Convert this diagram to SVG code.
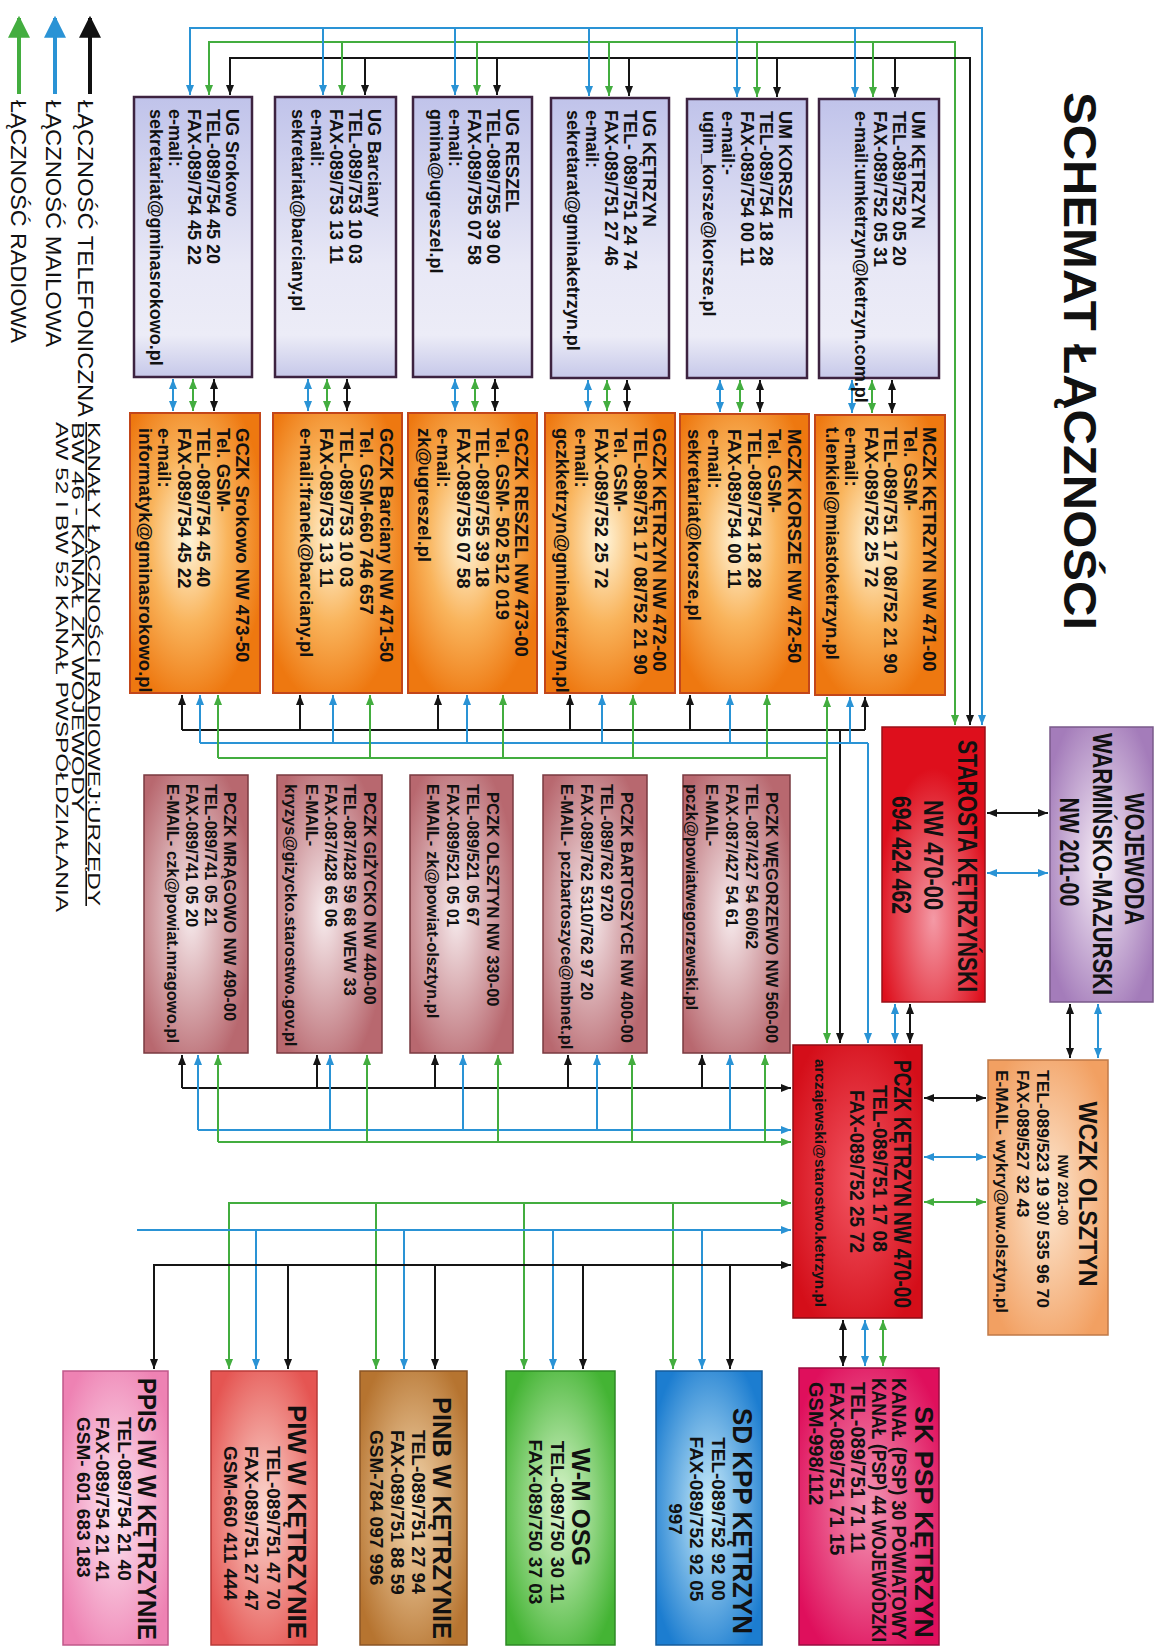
<svg xmlns="http://www.w3.org/2000/svg" width="1160" height="1648" viewBox="0 0 1160 1648">
<style>
text{font-family:"Liberation Sans",Arial,sans-serif;font-weight:bold;fill:#111}
.f18{font-size:18px}.f185{font-size:18.5px}.f165{font-size:16.5px}
.lg{font-weight:normal;font-size:22px}
.ln{fill:none;stroke-width:2}
.k{stroke:#151515}.b{stroke:#2a93d5}.g{stroke:#43ad3f}
.bUG{stroke:#3d2340;stroke-width:2.5}
.bOR{stroke:#c2461a;stroke-width:2}
.bRO{stroke:#7a3a40;stroke-width:1.5}
</style>
<defs>
<marker id="mk" viewBox="0 0 10 10" refX="10" refY="5" markerWidth="10" markerHeight="10" markerUnits="userSpaceOnUse" orient="auto-start-reverse"><path d="M0,1 L10,5 L0,9z" fill="#151515"/></marker>
<marker id="mb" viewBox="0 0 10 10" refX="10" refY="5" markerWidth="10" markerHeight="10" markerUnits="userSpaceOnUse" orient="auto-start-reverse"><path d="M0,1 L10,5 L0,9z" fill="#2a93d5"/></marker>
<marker id="mg" viewBox="0 0 10 10" refX="10" refY="5" markerWidth="10" markerHeight="10" markerUnits="userSpaceOnUse" orient="auto-start-reverse"><path d="M0,1 L10,5 L0,9z" fill="#43ad3f"/></marker>
<marker id="Lk" viewBox="0 0 10 10" refX="9" refY="5" markerWidth="22" markerHeight="22" markerUnits="userSpaceOnUse" orient="auto"><path d="M0,0 L10,5 L0,10z" fill="#111"/></marker>
<marker id="Lb" viewBox="0 0 10 10" refX="9" refY="5" markerWidth="22" markerHeight="22" markerUnits="userSpaceOnUse" orient="auto"><path d="M0,0 L10,5 L0,10z" fill="#2a93d5"/></marker>
<marker id="Lg" viewBox="0 0 10 10" refX="9" refY="5" markerWidth="22" markerHeight="22" markerUnits="userSpaceOnUse" orient="auto"><path d="M0,0 L10,5 L0,10z" fill="#43ad3f"/></marker>
<linearGradient id="gUG" x1="0" y1="0" x2="1" y2="0"><stop offset="0" stop-color="#c0c3ea"/><stop offset="0.6" stop-color="#e8e8f6"/><stop offset="0.85" stop-color="#ececf7"/><stop offset="1" stop-color="#c6c8e9"/></linearGradient>
<radialGradient id="gOR" cx="0.45" cy="0.55" r="0.6"><stop offset="0" stop-color="#fff6dc"/><stop offset="0.5" stop-color="#f9b45c"/><stop offset="1" stop-color="#ee7810"/></radialGradient>
<radialGradient id="gRO" cx="0.5" cy="0.55" r="0.6"><stop offset="0" stop-color="#f7ecee"/><stop offset="1" stop-color="#b8686f"/></radialGradient>
<radialGradient id="gST" cx="0.7" cy="0.5" r="0.55"><stop offset="0" stop-color="#f49aa6"/><stop offset="1" stop-color="#de0f1c"/></radialGradient>
<radialGradient id="gPC" cx="0.5" cy="0.5" r="0.6"><stop offset="0" stop-color="#f25562"/><stop offset="1" stop-color="#d40e19"/></radialGradient>
<radialGradient id="gWO" cx="0.5" cy="0.5" r="0.6"><stop offset="0" stop-color="#f8f0f8"/><stop offset="1" stop-color="#a47cba"/></radialGradient>
<radialGradient id="gWC" cx="0.5" cy="0.5" r="0.6"><stop offset="0" stop-color="#fde9d4"/><stop offset="1" stop-color="#f2a062"/></radialGradient>
<radialGradient id="gSK" cx="0.5" cy="0.5" r="0.6"><stop offset="0" stop-color="#f396b4"/><stop offset="1" stop-color="#df0f5c"/></radialGradient>
<radialGradient id="gSD" cx="0.5" cy="0.5" r="0.6"><stop offset="0" stop-color="#cdeefb"/><stop offset="1" stop-color="#1c7dd0"/></radialGradient>
<radialGradient id="gWM" cx="0.5" cy="0.5" r="0.6"><stop offset="0" stop-color="#dff7d2"/><stop offset="1" stop-color="#44b434"/></radialGradient>
<radialGradient id="gPN" cx="0.5" cy="0.5" r="0.6"><stop offset="0" stop-color="#f6dbb4"/><stop offset="1" stop-color="#b67430"/></radialGradient>
<radialGradient id="gPW" cx="0.5" cy="0.5" r="0.6"><stop offset="0" stop-color="#fbd8d0"/><stop offset="1" stop-color="#e55552"/></radialGradient>
<radialGradient id="gPP" cx="0.5" cy="0.5" r="0.6"><stop offset="0" stop-color="#fde8f2"/><stop offset="1" stop-color="#ee82b3"/></radialGradient>
</defs>
<rect width="1160" height="1648" fill="#fff"/>

<text transform="translate(1064,92) rotate(90)" font-size="46" textLength="538" lengthAdjust="spacingAndGlyphs">SCHEMAT ŁĄCZNOŚCI</text>

<g id="legend">
<path d="M90,94 V18" stroke="#111" stroke-width="4" marker-end="url(#Lk)"/>
<path d="M55,94 V18" stroke="#2a93d5" stroke-width="4" marker-end="url(#Lb)"/>
<path d="M19,94 V18" stroke="#43ad3f" stroke-width="4" marker-end="url(#Lg)"/>
<text class="lg" transform="translate(78,100) rotate(90)" textLength="317" lengthAdjust="spacingAndGlyphs">ŁĄCZNOŚĆ TELEFONICZNA</text>
<text class="lg" transform="translate(46,100) rotate(90)" textLength="247" lengthAdjust="spacingAndGlyphs">ŁĄCZNOŚĆ MAILOWA</text>
<text class="lg" transform="translate(11,100) rotate(90)" textLength="243" lengthAdjust="spacingAndGlyphs">ŁĄCZNOŚĆ RADIOWA</text>
<text transform="translate(88,422) rotate(90)" style="font-weight:normal;font-size:16px" text-decoration="underline" textLength="484" lengthAdjust="spacingAndGlyphs">KANAŁY ŁĄCZNOŚCI RADIOWEJ:URZĘDY</text>
<text transform="translate(72,422) rotate(90)" style="font-weight:normal;font-size:16px" textLength="390" lengthAdjust="spacingAndGlyphs">BW 46  - KANAŁ ZK WOJEWODY</text>
<text transform="translate(56,422) rotate(90)" style="font-weight:normal;font-size:16px" textLength="490" lengthAdjust="spacingAndGlyphs">AW 52 I BW 52 KANAŁ PWSPÓŁDZIAŁANIA</text>
</g>

<g id="connectors">
<path class="ln b" d="M190,95 V28 H982 V725" marker-start="url(#mb)" marker-end="url(#mb)"/>
<path class="ln g" d="M209,95 V42 H955 V725" marker-start="url(#mg)" marker-end="url(#mg)"/>
<path class="ln k" d="M230,95 V58 H970 V725" marker-start="url(#mk)" marker-end="url(#mk)"/>
<g class="ln b" marker-end="url(#mb)"><path d="M323,28 V95"/><path d="M455,28 V95"/><path d="M589,28 V96"/><path d="M737,28 V97"/><path d="M855,28 V97"/></g>
<g class="ln g" marker-end="url(#mg)"><path d="M342,42 V95"/><path d="M477,42 V95"/><path d="M609,42 V96"/><path d="M757,42 V97"/><path d="M873,42 V97"/></g>
<g class="ln k" marker-end="url(#mk)"><path d="M365,58 V95"/><path d="M497,58 V95"/><path d="M629,58 V96"/><path d="M777,58 V97"/><path d="M895,58 V97"/></g>
<g class="ln b" marker-start="url(#mb)" marker-end="url(#mb)"><path d="M173,379 V411"/><path d="M308,379 V411"/><path d="M455,379 V411"/><path d="M588,380 V411"/><path d="M720,380 V412"/><path d="M852,380 V413"/></g>
<g class="ln g" marker-start="url(#mg)" marker-end="url(#mg)"><path d="M193,379 V411"/><path d="M327,379 V411"/><path d="M475,379 V411"/><path d="M607,380 V411"/><path d="M740,380 V412"/><path d="M872,380 V413"/></g>
<g class="ln k" marker-start="url(#mk)" marker-end="url(#mk)"><path d="M214,379 V411"/><path d="M347,379 V411"/><path d="M495,379 V411"/><path d="M627,380 V411"/><path d="M760,380 V412"/><path d="M892,380 V413"/></g>
<path class="ln k" d="M182,730 H865"/>
<g class="ln k" marker-end="url(#mk)"><path d="M182,730 V695"/><path d="M300,730 V695"/><path d="M438,730 V695"/><path d="M570,730 V695"/><path d="M690,730 V695"/><path d="M865,730 V697"/><path d="M840,730 V1043"/></g>
<path class="ln b" d="M200,743 H868"/>
<g class="ln b" marker-end="url(#mb)"><path d="M200,743 V695"/><path d="M333,743 V695"/><path d="M467,743 V695"/><path d="M602,743 V695"/><path d="M730,743 V695"/><path d="M850,743 V697"/><path d="M868,743 V1043"/></g>
<path class="ln g" d="M218,758 H827"/>
<g class="ln g" marker-end="url(#mg)"><path d="M218,758 V695"/><path d="M370,758 V695"/><path d="M503,758 V695"/><path d="M633,758 V695"/><path d="M767,758 V695"/></g>
<path class="ln g" d="M827,697 V1043" marker-start="url(#mg)" marker-end="url(#mg)"/>
<path class="ln k" d="M182,1088 H791" marker-end="url(#mk)"/>
<g class="ln k" marker-end="url(#mk)"><path d="M182,1088 V1055"/><path d="M317,1088 V1055"/><path d="M435,1088 V1055"/><path d="M568,1088 V1055"/><path d="M702,1088 V1055"/></g>
<path class="ln b" d="M198,1130 H791" marker-end="url(#mb)"/>
<g class="ln b" marker-end="url(#mb)"><path d="M198,1130 V1055"/><path d="M330,1130 V1055"/><path d="M463,1130 V1055"/><path d="M597,1130 V1055"/><path d="M730,1130 V1055"/></g>
<path class="ln g" d="M218,1142 H791" marker-end="url(#mg)"/>
<g class="ln g" marker-end="url(#mg)"><path d="M218,1142 V1055"/><path d="M367,1142 V1055"/><path d="M498,1142 V1055"/><path d="M632,1142 V1055"/><path d="M765,1142 V1055"/></g>
<path class="ln g" d="M229,1369 V1203 H791" marker-start="url(#mg)" marker-end="url(#mg)"/>
<g class="ln g" marker-end="url(#mg)"><path d="M376,1203 V1369"/><path d="M524,1203 V1369"/><path d="M673,1203 V1369"/></g>
<path class="ln b" d="M137,1230 H791" marker-end="url(#mb)"/>
<g class="ln b" marker-end="url(#mb)"><path d="M256,1230 V1369"/><path d="M404,1230 V1369"/><path d="M553,1230 V1369"/><path d="M702,1230 V1369"/></g>
<path class="ln k" d="M154,1369 V1265 H791" marker-start="url(#mk)" marker-end="url(#mk)"/>
<g class="ln k" marker-end="url(#mk)"><path d="M288,1265 V1369"/><path d="M435,1265 V1369"/><path d="M583,1265 V1369"/><path d="M730,1265 V1369"/></g>
<path class="ln k" d="M987,813 H1048" marker-start="url(#mk)" marker-end="url(#mk)"/>
<path class="ln b" d="M987,873 H1048" marker-start="url(#mb)" marker-end="url(#mb)"/>
<path class="ln b" d="M895,1004 V1043" marker-start="url(#mb)" marker-end="url(#mb)"/>
<path class="ln k" d="M910,1004 V1043" marker-start="url(#mk)" marker-end="url(#mk)"/>
<path class="ln k" d="M1070,1004 V1058" marker-start="url(#mk)" marker-end="url(#mk)"/>
<path class="ln b" d="M1098,1004 V1058" marker-start="url(#mb)" marker-end="url(#mb)"/>
<path class="ln k" d="M924,1098 H986" marker-start="url(#mk)" marker-end="url(#mk)"/>
<path class="ln b" d="M924,1157 H986" marker-start="url(#mb)" marker-end="url(#mb)"/>
<path class="ln g" d="M924,1202 H986" marker-start="url(#mg)" marker-end="url(#mg)"/>
<path class="ln k" d="M843,1320 V1366" marker-start="url(#mk)" marker-end="url(#mk)"/>
<path class="ln b" d="M865,1320 V1366" marker-start="url(#mb)" marker-end="url(#mb)"/>
<path class="ln g" d="M883,1320 V1366" marker-start="url(#mg)" marker-end="url(#mg)"/>
</g>

<g id="ug-srokowo" transform="translate(252,97) rotate(90)"><rect width="280" height="118" fill="url(#gUG)" class="bUG"/>
<text class="f18"><tspan x="12" y="26">UG Srokowo</tspan><tspan x="12" y="45">TEL-089/754 45 20</tspan><tspan x="12" y="64">FAX-089/754 45 22</tspan><tspan x="12" y="83">e-mail:</tspan><tspan x="12" y="102">sekretariat@gminasrokowo.pl</tspan></text></g>
<g id="ug-barciany" transform="translate(396,97) rotate(90)"><rect width="280" height="121" fill="url(#gUG)" class="bUG"/>
<text class="f18"><tspan x="12" y="28">UG Barciany</tspan><tspan x="12" y="47">TEL-089/753 10 03</tspan><tspan x="12" y="66">FAX-089/753 13 11</tspan><tspan x="12" y="85">e-mail:</tspan><tspan x="12" y="104">sekretariat@barciany.pl</tspan></text></g>
<g id="ug-reszel" transform="translate(532,97) rotate(90)"><rect width="280" height="119" fill="url(#gUG)" class="bUG"/>
<text class="f18"><tspan x="12" y="26">UG RESZEL</tspan><tspan x="12" y="45">TEL-089/755 39 00</tspan><tspan x="12" y="64">FAX-089/755 07 58</tspan><tspan x="12" y="83">e-mail:</tspan><tspan x="12" y="102">gmina@ugreszel.pl</tspan></text></g>
<g id="ug-ketrzyn" transform="translate(669,98) rotate(90)"><rect width="280" height="118" fill="url(#gUG)" class="bUG"/>
<text class="f18"><tspan x="12" y="26">UG KĘTRZYN</tspan><tspan x="12" y="45">TEL- 089/751 24 74</tspan><tspan x="12" y="64">FAX-089/751 27 46</tspan><tspan x="12" y="83">e-mail:</tspan><tspan x="12" y="102">sekretarat@gminaketrzyn.pl</tspan></text></g>
<g id="um-korsze" transform="translate(807,99) rotate(90)"><rect width="279" height="120" fill="url(#gUG)" class="bUG"/>
<text class="f18"><tspan x="12" y="28">UM KORSZE</tspan><tspan x="12" y="47">TEL-089/754 18 28</tspan><tspan x="12" y="66">FAX-089/754 00 11</tspan><tspan x="12" y="85">e-mail:-</tspan><tspan x="12" y="104">ugim_korsze@korsze.pl</tspan></text></g>
<g id="um-ketrzyn" transform="translate(939,99) rotate(90)"><rect width="279" height="120" fill="url(#gUG)" class="bUG"/>
<text class="f18"><tspan x="12" y="27">UM KĘTRZYN</tspan><tspan x="12" y="46">TEL-089/752 05 20</tspan><tspan x="12" y="65">FAX-089/752 05 31</tspan><tspan x="12" y="84">e-mail:umketrzyn@ketrzyn.com.pl</tspan></text></g>

<g id="gczk-srokowo" transform="translate(260,413) rotate(90)"><rect width="280" height="130" fill="url(#gOR)" class="bOR"/>
<text class="f185"><tspan x="15" y="24">GCZK  Srokowo NW 473-50</tspan><tspan x="15" y="43.5">Tel. GSM-</tspan><tspan x="15" y="63">TEL-089/754 45 40</tspan><tspan x="15" y="82.5">FAX-089/754 45 22</tspan><tspan x="15" y="102">e-mail:</tspan><tspan x="15" y="121">informatyk@gminasrokowo.pl</tspan></text></g>
<g id="gczk-barciany" transform="translate(402,413) rotate(90)"><rect width="280" height="129" fill="url(#gOR)" class="bOR"/>
<text class="f185"><tspan x="15" y="22">GCZK  Barciany NW 471-50</tspan><tspan x="15" y="42">Tel. GSM-660 746 657</tspan><tspan x="15" y="62">TEL-089/753 10 03</tspan><tspan x="15" y="82">FAX-089/753 13 11</tspan><tspan x="15" y="102">e-mail:franek@barciany.pl</tspan></text></g>
<g id="gczk-reszel" transform="translate(537,413) rotate(90)"><rect width="280" height="129" fill="url(#gOR)" class="bOR"/>
<text class="f185"><tspan x="15" y="22">GCZK  RESZEL NW 473-00</tspan><tspan x="15" y="41.5">Tel. GSM- 502 512 019</tspan><tspan x="15" y="61">TEL-089/755 39 18</tspan><tspan x="15" y="80.5">FAX-089/755 07 58</tspan><tspan x="15" y="100">e-mail:</tspan><tspan x="15" y="119">zk@ugreszel.pl</tspan></text></g>
<g id="gczk-ketrzyn" transform="translate(675,413) rotate(90)"><rect width="280" height="130" fill="url(#gOR)" class="bOR"/>
<text class="f185"><tspan x="15" y="22">GCZK KĘTRZYN NW 472-00</tspan><tspan x="15" y="41.5">TEL-089/751 17 08/752 21 90</tspan><tspan x="15" y="61">Tel. GSM-</tspan><tspan x="15" y="80.5">FAX-089/752 25 72</tspan><tspan x="15" y="100">e-mail:</tspan><tspan x="15" y="119">gczkketrzyn@gminaketrzyn.pl</tspan></text></g>
<g id="mczk-korsze" transform="translate(809,414) rotate(90)"><rect width="279" height="129" fill="url(#gOR)" class="bOR"/>
<text class="f185"><tspan x="15" y="21">MCZK  KORSZE NW 472-50</tspan><tspan x="15" y="41">Tel. GSM-</tspan><tspan x="15" y="61">TEL-089/754 18 28</tspan><tspan x="15" y="81">FAX-089/754 00 11</tspan><tspan x="15" y="101">e-mail:</tspan><tspan x="15" y="121">sekretariat@korsze.pl</tspan></text></g>
<g id="mczk-ketrzyn" transform="translate(945,415) rotate(90)"><rect width="280" height="130" fill="url(#gOR)" class="bOR"/>
<text class="f185"><tspan x="12" y="22">MCZK KĘTRZYN NW 471-00</tspan><tspan x="12" y="41.5">Tel. GSM-</tspan><tspan x="12" y="61">TEL-089/751 17 08/752 21 90</tspan><tspan x="12" y="80.5">FAX-089/752 25 72</tspan><tspan x="12" y="100">e-mail:</tspan><tspan x="12" y="119">t.lenkiel@miastoketrzyn.pl</tspan></text></g>

<g id="pczk-mragowo" transform="translate(248,775) rotate(90)"><rect width="278" height="104" fill="url(#gRO)" class="bRO"/>
<text class="f165"><tspan x="17" y="24">PCZK MRĄGOWO  NW 490-00</tspan><tspan x="9" y="43">TEL-089/741 05 21</tspan><tspan x="9" y="62">FAX-089/741 05 20</tspan><tspan x="9" y="81">E-MAIL- czk@powiat.mragowo.pl</tspan></text></g>
<g id="pczk-gizycko" transform="translate(382,775) rotate(90)"><rect width="278" height="105" fill="url(#gRO)" class="bRO"/>
<text class="f165"><tspan x="17" y="18">PCZK GIŻYCKO   NW 440-00</tspan><tspan x="9" y="38">TEL-087/428 59 68 WEW 33</tspan><tspan x="9" y="57">FAX-087/428 65 06</tspan><tspan x="9" y="76">E-MAIL-</tspan><tspan x="9" y="97">kryzys@gizycko.starostwo.gov.pl</tspan></text></g>
<g id="pczk-olsztyn" transform="translate(513,775) rotate(90)"><rect width="278" height="103" fill="url(#gRO)" class="bRO"/>
<text class="f165"><tspan x="17" y="26">PCZK OLSZTYN  NW 330-00</tspan><tspan x="9" y="46">TEL-089/521 05 67</tspan><tspan x="9" y="66">FAX-089/521 05 01</tspan><tspan x="9" y="86">E-MAIL- zk@powiat-olsztyn.pl</tspan></text></g>
<g id="pczk-bartoszyce" transform="translate(647,775) rotate(90)"><rect width="278" height="104" fill="url(#gRO)" class="bRO"/>
<text class="f165"><tspan x="17" y="26">PCZK BARTOSZYCE NW 400-00</tspan><tspan x="9" y="46">TEL-089/762 9720</tspan><tspan x="9" y="66">FAX-089/762 5310/762 97 20</tspan><tspan x="9" y="86">E-MAIL- pczbartoszyce@mbnet.pl</tspan></text></g>
<g id="pczk-wegorzewo" transform="translate(790,775) rotate(90)"><rect width="278" height="107" fill="url(#gRO)" class="bRO"/>
<text class="f165"><tspan x="17" y="24">PCZK WĘGORZEWO NW 560-00</tspan><tspan x="9" y="44">TEL-087/427 54 60/62</tspan><tspan x="9" y="64">FAX-087/427 54 61</tspan><tspan x="9" y="84">E-MAIL-</tspan><tspan x="9" y="104">pczk@powiatwegorzewski.pl</tspan></text></g>

<g id="starosta" transform="translate(985,727) rotate(90)"><rect width="275" height="103" fill="url(#gST)" stroke="#9a1018" stroke-width="1.5"/>
<text font-size="27" text-anchor="middle"><tspan x="139" y="27" textLength="252" lengthAdjust="spacingAndGlyphs">STAROSTA KĘTRZYŃSKI</tspan><tspan x="128" y="61" textLength="110" lengthAdjust="spacingAndGlyphs">NW 470-00</tspan><tspan x="128" y="93" textLength="118" lengthAdjust="spacingAndGlyphs">694 424 462</tspan></text></g>
<g id="wojewoda" transform="translate(1153,727) rotate(90)"><rect width="275" height="103" fill="url(#gWO)" stroke="#7a5a8a" stroke-width="1.5"/>
<text font-size="27" text-anchor="middle"><tspan x="132" y="28" textLength="132" lengthAdjust="spacingAndGlyphs">WOJEWODA</tspan><tspan x="137" y="60" textLength="262" lengthAdjust="spacingAndGlyphs">WARMIŃSKO-MAZURSKI</tspan><tspan x="125" y="93" textLength="109" lengthAdjust="spacingAndGlyphs">NW 201-00</tspan></text></g>

<g id="pczk-ketrzyn" transform="translate(922,1045) rotate(90)"><rect width="273" height="129" fill="url(#gPC)" stroke="#8e0c14" stroke-width="1.5"/>
<text font-size="23"><tspan x="15" y="28" textLength="248" lengthAdjust="spacingAndGlyphs">PCZK  KĘTRZYN NW 470-00</tspan></text>
<text font-size="20"><tspan x="40" y="49" textLength="167" lengthAdjust="spacingAndGlyphs">TEL-089/751 17 08</tspan><tspan x="45" y="72" textLength="163" lengthAdjust="spacingAndGlyphs">FAX-089/752 25 72</tspan></text>
<text font-size="15"><tspan x="14" y="107" textLength="248" lengthAdjust="spacingAndGlyphs">arczajewski@starostwo.ketrzyn.pl</tspan></text></g>

<g id="wczk-olsztyn" transform="translate(1108,1060) rotate(90)"><rect width="275" height="120" fill="url(#gWC)" stroke="#c07a48" stroke-width="1.5"/>
<text font-size="26" text-anchor="middle"><tspan x="134" y="29" textLength="185" lengthAdjust="spacingAndGlyphs">WCZK OLSZTYN</tspan></text>
<text font-size="14" text-anchor="middle"><tspan x="130" y="50">NW 201-00</tspan></text>
<text font-size="17"><tspan x="10" y="71" textLength="238" lengthAdjust="spacingAndGlyphs">TEL-089/523 19 30/ 535 96 70</tspan><tspan x="10" y="91">FAX-089/527 32 43</tspan><tspan x="10" y="112" textLength="243" lengthAdjust="spacingAndGlyphs">E-MAIL- wykry@uw.olsztyn.pl</tspan></text></g>

<g id="sk-psp" transform="translate(939,1368) rotate(90)"><rect width="277" height="140" fill="url(#gSK)" stroke="#9a0c40" stroke-width="1.5"/>
<text font-size="26"><tspan x="38" y="24" textLength="232" lengthAdjust="spacingAndGlyphs">SK PSP KĘTRZYN</tspan></text>
<text font-size="20"><tspan x="10" y="47" textLength="262" lengthAdjust="spacingAndGlyphs">KANAŁ (PSP) 30 POWIATOWY</tspan><tspan x="10" y="67" textLength="264" lengthAdjust="spacingAndGlyphs">KANAŁ (PSP) 44 WOJEWÓDZKI</tspan><tspan x="14" y="88">TEL-089/751 71 11</tspan><tspan x="14" y="109">FAX-089/751 71 15</tspan><tspan x="14" y="130">GSM-998/112</tspan></text></g>
<g id="sd-kpp" transform="translate(762,1371) rotate(90)"><rect width="274" height="106" fill="url(#gSD)" stroke="#145c9c" stroke-width="1.5"/>
<text font-size="28" text-anchor="middle"><tspan x="150" y="29" textLength="226" lengthAdjust="spacingAndGlyphs">SD KPP KĘTRZYN</tspan></text>
<text font-size="19" text-anchor="middle"><tspan x="148" y="50">TEL-089/752 92 00</tspan><tspan x="148" y="72">FAX-089/752 92 05</tspan><tspan x="148" y="93">997</tspan></text></g>
<g id="wm-osg" transform="translate(615,1371) rotate(90)"><rect width="274" height="109" fill="url(#gWM)" stroke="#2e8a26" stroke-width="1.5"/>
<text font-size="26" text-anchor="middle"><tspan x="136" y="43" textLength="118" lengthAdjust="spacingAndGlyphs">W-M OSG</tspan></text>
<text font-size="19" text-anchor="middle"><tspan x="151" y="64">TEL-089/750 30 11</tspan><tspan x="151" y="86">FAX-089/750 37 03</tspan></text></g>
<g id="pinb" transform="translate(467,1371) rotate(90)"><rect width="274" height="107" fill="url(#gPN)" stroke="#8a5424" stroke-width="1.5"/>
<text font-size="26"><tspan x="26" y="34" textLength="242" lengthAdjust="spacingAndGlyphs">PINB W KĘTRZYNIE</tspan></text>
<text font-size="19"><tspan x="59" y="55">TEL-089/751 27 94</tspan><tspan x="59" y="76">FAX-089/751 88 59</tspan><tspan x="59" y="97">GSM-784 097 996</tspan></text></g>
<g id="piw" transform="translate(317,1371) rotate(90)"><rect width="274" height="106" fill="url(#gPW)" stroke="#b83a38" stroke-width="1.5"/>
<text font-size="26"><tspan x="34" y="29" textLength="234" lengthAdjust="spacingAndGlyphs">PIW W KĘTRZYNIE</tspan></text>
<text font-size="19"><tspan x="75" y="50">TEL-089/751 47 70</tspan><tspan x="75" y="72">FAX-089/751 27 47</tspan><tspan x="75" y="93">GSM-660 411 444</tspan></text></g>
<g id="ppis" transform="translate(168,1371) rotate(90)"><rect width="274" height="105" fill="url(#gPP)" stroke="#c0588a" stroke-width="1.5"/>
<text font-size="26"><tspan x="7" y="30" textLength="262" lengthAdjust="spacingAndGlyphs">PPIS IW W KĘTRZYNIE</tspan></text>
<text font-size="19"><tspan x="46" y="50">TEL-089/754 21 40</tspan><tspan x="46" y="72">FAX-089/754 21 41</tspan><tspan x="46" y="91">GSM- 601 683 183</tspan></text></g>
</svg>
